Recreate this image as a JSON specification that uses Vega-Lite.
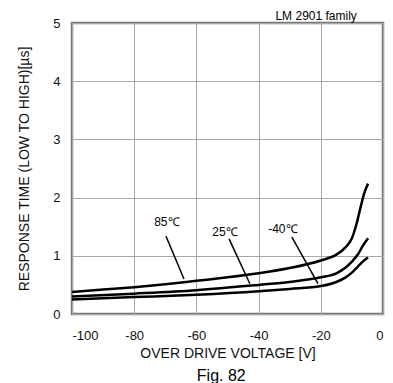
{
  "$schema": "https://vega.github.io/schema/vega-lite/v6.json",
  "width": 311,
  "height": 291,
  "autosize": {"type": "none"},
  "padding": {"left": 72, "top": 23, "right": 10, "bottom": 69},
  "background": "white",
  "config": {
    "font": "Liberation Sans",
    "view": {"stroke": "#777777", "strokeWidth": 2.5},
    "axis": {
      "domain": false,
      "ticks": false,
      "grid": true,
      "gridColor": "#a8a8a8",
      "gridWidth": 1,
      "labelFont": "Liberation Sans",
      "labelFontSize": 13,
      "labelColor": "#111111",
      "titleFont": "Liberation Sans",
      "titleFontSize": 14,
      "titleFontWeight": "normal",
      "titleColor": "#111111"
    }
  },
  "datasets": {
    "curves": [
      {"v": -100, "t": 0.38, "s": "85"}, {"v": -90, "t": 0.42, "s": "85"}, {"v": -80, "t": 0.46, "s": "85"},
      {"v": -70, "t": 0.51, "s": "85"}, {"v": -60, "t": 0.57, "s": "85"}, {"v": -50, "t": 0.63, "s": "85"},
      {"v": -40, "t": 0.70, "s": "85"}, {"v": -30, "t": 0.79, "s": "85"}, {"v": -20, "t": 0.92, "s": "85"},
      {"v": -15, "t": 1.02, "s": "85"}, {"v": -12, "t": 1.15, "s": "85"}, {"v": -10, "t": 1.30, "s": "85"},
      {"v": -8.5, "t": 1.55, "s": "85"}, {"v": -7, "t": 1.88, "s": "85"}, {"v": -6, "t": 2.08, "s": "85"},
      {"v": -4.8, "t": 2.24, "s": "85"},
      {"v": -100, "t": 0.30, "s": "25"}, {"v": -80, "t": 0.35, "s": "25"}, {"v": -60, "t": 0.41, "s": "25"},
      {"v": -40, "t": 0.50, "s": "25"}, {"v": -30, "t": 0.55, "s": "25"}, {"v": -20, "t": 0.63, "s": "25"},
      {"v": -15, "t": 0.70, "s": "25"}, {"v": -12, "t": 0.80, "s": "25"}, {"v": -10, "t": 0.90, "s": "25"},
      {"v": -8, "t": 1.03, "s": "25"}, {"v": -6.5, "t": 1.17, "s": "25"}, {"v": -4.8, "t": 1.30, "s": "25"},
      {"v": -100, "t": 0.25, "s": "-40"}, {"v": -80, "t": 0.29, "s": "-40"}, {"v": -60, "t": 0.33, "s": "-40"},
      {"v": -40, "t": 0.39, "s": "-40"}, {"v": -30, "t": 0.43, "s": "-40"}, {"v": -20, "t": 0.48, "s": "-40"},
      {"v": -15, "t": 0.55, "s": "-40"}, {"v": -12, "t": 0.63, "s": "-40"}, {"v": -10, "t": 0.71, "s": "-40"},
      {"v": -8, "t": 0.82, "s": "-40"}, {"v": -6.5, "t": 0.90, "s": "-40"}, {"v": -4.8, "t": 0.97, "s": "-40"}
    ],
    "leaders": [
      {"x1": -69.8, "y1": 1.34, "x2": -64.0, "y2": 0.60},
      {"x1": -49.5, "y1": 1.29, "x2": -42.8, "y2": 0.52},
      {"x1": -29.3, "y1": 1.32, "x2": -20.9, "y2": 0.52}
    ],
    "labels": [
      {"x": -69.5, "y": 1.58, "label": "85℃"},
      {"x": -50.8, "y": 1.41, "label": "25℃"},
      {"x": -32.2, "y": 1.46, "label": "-40℃"}
    ],
    "notes": [
      {"x": -21.5, "y": 5.05, "label": "LM 2901 family", "size": 12},
      {"x": -52, "y": -1.15, "label": "Fig. 82", "size": 16}
    ]
  },
  "encoding": {
    "x": {"type": "quantitative"},
    "y": {"type": "quantitative"}
  },
  "layer": [
    {
      "data": {"name": "curves"},
      "mark": {"type": "line", "color": "black", "strokeWidth": 2.5, "interpolate": "monotone"},
      "encoding": {
        "x": {"field": "v", "type": "quantitative", "scale": {"domain": [-100, 0], "nice": false},
              "axis": {"values": [-100, -80, -60, -40, -20, 0], "labelExpr": "datum.value + ''", "labelPadding": 15, "title": "OVER DRIVE VOLTAGE [V]", "titlePadding": 4}},
        "y": {"field": "t", "type": "quantitative", "scale": {"domain": [0, 5], "nice": false},
              "axis": {"values": [0, 1, 2, 3, 4, 5], "labelExpr": "datum.value + ''", "labelPadding": 12, "title": "RESPONSE TIME (LOW TO HIGH)[µs]", "titlePadding": 21}},
        "detail": {"field": "s"}
      }
    },
    {
      "data": {"name": "leaders"},
      "mark": {"type": "rule", "color": "black", "strokeWidth": 1.5},
      "encoding": {
        "x": {"field": "x1", "type": "quantitative"},
        "y": {"field": "y1", "type": "quantitative"},
        "x2": {"field": "x2"},
        "y2": {"field": "y2"}
      }
    },
    {
      "data": {"name": "labels"},
      "mark": {"type": "text", "fontSize": 12, "color": "black", "font": "Liberation Sans"},
      "encoding": {
        "x": {"field": "x", "type": "quantitative"},
        "y": {"field": "y", "type": "quantitative"},
        "text": {"field": "label"}
      }
    },
    {
      "data": {"name": "notes"},
      "mark": {"type": "text", "color": "black", "font": "Liberation Sans", "clip": false, "baseline": "alphabetic"},
      "encoding": {
        "x": {"field": "x", "type": "quantitative"},
        "y": {"field": "y", "type": "quantitative"},
        "text": {"field": "label"},
        "size": {"field": "size", "type": "quantitative", "scale": null}
      }
    }
  ]
}
